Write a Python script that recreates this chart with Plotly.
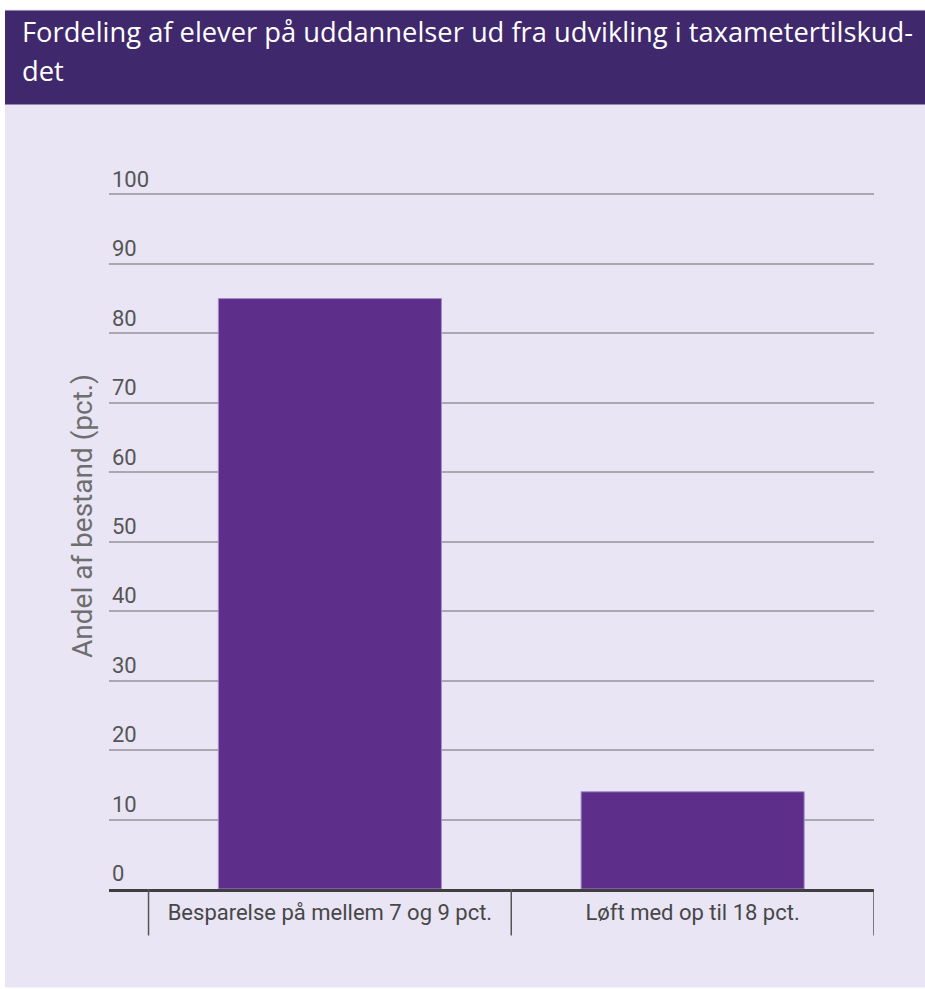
import plotly.graph_objects as go

categories = ["Besparelse på mellem 7 og 9 pct.", "Løft med op til 18 pct."]
values = [85, 14]
y_ticks = [0, 10, 20, 30, 40, 50, 60, 70, 80, 90, 100]
title_lines = ["Fordeling af elever på uddannelser ud fra udvikling i taxametertilskud-", "det"]
y_title = "Andel af bestand (pct.)"

W, H = 925, 989
Y_MAX = 112
L, R = 109, 874          # plot area left/right px
B = 889.5                # y = 0
T = B - Y_MAX * 6.955    # top of plot area

def px(x):               # page px -> paper
    return (x - L) / (R - L)

def py(y):
    return (B - y) / (B - T)

fig = go.Figure()
fig.add_trace(go.Bar(
    x=list(range(len(categories))), y=values, width=0.615,
    marker=dict(color="#5d2e8a", line=dict(color="#a48cc8", width=1)),
    hoverinfo="skip",
))

shapes = [
    dict(type="rect", xref="paper", yref="paper", x0=px(5), x1=px(940), y0=py(9), y1=py(988),
         fillcolor="#e9e5f5", line=dict(width=0), layer="below"),
    dict(type="rect", xref="paper", yref="paper", x0=px(5), x1=px(940), y0=py(10), y1=py(104),
         fillcolor="#40286d", line=dict(width=0), layer="below"),
]
for i in range(len(categories) + 1):
    shapes.append(dict(type="line", xref="x", yref="paper", x0=i - 0.5, x1=i - 0.5,
                       y0=0, y1=py(936), line=dict(color="#555555", width=1.5)))

annotations = [
    dict(xref="paper", yref="paper", x=px(20), y=py(31), text=title_lines[0], showarrow=False,
         xanchor="left", yanchor="middle", font=dict(family="Open Sans", size=27.3, color="white")),
    dict(xref="paper", yref="paper", x=px(20), y=py(70), text=title_lines[1], showarrow=False,
         xanchor="left", yanchor="middle", font=dict(family="Open Sans", size=27.3, color="white")),
    dict(xref="paper", yref="paper", x=px(83), y=py(516), text=y_title, showarrow=False,
         textangle=-90, xanchor="center", yanchor="middle",
         font=dict(family="Roboto", size=28, color="#6e6e6e")),
]

fig.update_layout(
    width=W, height=H,
    margin=dict(l=L, r=W - R, t=T, b=H - B, pad=0),
    paper_bgcolor="white", plot_bgcolor="rgba(0,0,0,0)",
    showlegend=False, shapes=shapes, annotations=annotations,
    xaxis=dict(range=[-0.609, len(categories) - 0.5], tickmode="array",
               tickvals=list(range(len(categories))), ticktext=categories,
               showgrid=False, zeroline=False, showline=True, linecolor="#3f3f3f", linewidth=3,
               ticks="", ticklabelstandoff=2,
               tickfont=dict(family="Roboto", size=22, color="#474747"),
               fixedrange=True),
    yaxis=dict(range=[0, Y_MAX], tickmode="array", tickvals=y_ticks,
               ticklabelposition="inside top", showgrid=True, gridcolor="#a9a7b0", gridwidth=2,
               zeroline=False, showline=False, ticks="",
               tickfont=dict(family="Roboto", size=22, color="#555555"), fixedrange=True),
)

fig.write_html("out.html", config={"displayModeBar": False},
               post_script="document.body.style.margin='0';document.body.style.overflow='hidden';")
